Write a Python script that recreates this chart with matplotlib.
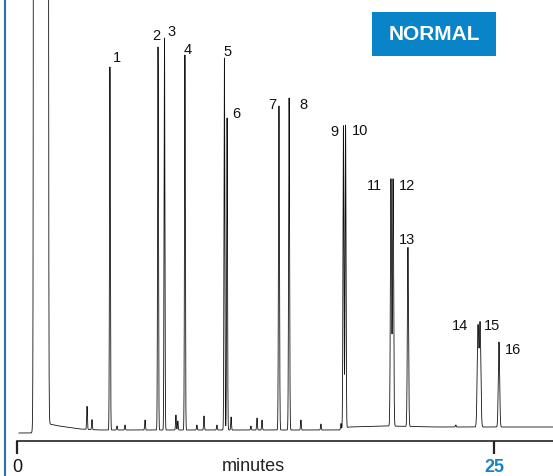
import numpy as np
import matplotlib
matplotlib.use("Agg")
import matplotlib.pyplot as plt
from matplotlib.lines import Line2D
from matplotlib.patches import Rectangle

plt.rcParams['font.family'] = ['Liberation Sans', 'DejaVu Sans']

# ---- data (retention time in minutes, response in arbitrary units) ----
peak_labels = ['1', '2', '3', '4', '5', '6', '7', '8', '9', '10',
               '11', '12', '13', '14', '15', '16']
peak_times = [4.87, 7.39, 7.73, 8.80, 10.87, 11.01, 13.73, 14.26, 17.11, 17.22,
              19.60, 19.71, 20.49, 24.16, 24.27, 25.26]
peak_heights = [363, 383, 392, 375, 372, 312, 324, 332, 303, 303,
                247, 247, 179, 100, 103, 85]
peak_widths = [0.022, 0.022, 0.022, 0.022, 0.022, 0.022, 0.025, 0.025, 0.025, 0.025,
               0.03, 0.03, 0.03, 0.04, 0.04, 0.035]

minor_times = [3.67, 3.93, 5.24, 5.66, 6.71, 8.33, 8.43, 9.43, 9.80, 10.48,
               11.22, 12.26, 12.58, 12.84, 14.88, 15.93, 16.98, 23.0]
minor_heights = [23, 10, 4, 5, 10, 15, 9, 5, 14, 5,
                 13, 4, 12, 10, 10, 6, 6, 2]

solvent_start = 0.89
solvent_end = 1.62
solvent_height = 10000

baseline_times = [0.1, 0.75, 1.7, 2.2, 2.6, 3.3, 4.3, 8.0, 12.0, 16.9, 17.4, 19.5, 22.0, 28.1]
baseline_levels = [8, 8, 17, 15, 14, 12, 11, 11, 11, 11, 14, 15, 14, 14]

x_ticks = [0, 25]
x_tick_labels = ['0', '25']

# label offsets (pixels) relative to the peak apex
label_offsets = [(7, 10), (-2, 12), (7, 7), (3, 6), (3.5, 7), (9, 5), (-7, 2), (14, -6),
                 (-9, -5), (15, -5), (-17, -6), (14, -6), (-1, 8), (-18, 2), (12, -1), (14, -7)]

# ---- figure ----
W, H, DPI = 553, 477, 100
fig = plt.figure(figsize=(W / DPI, H / DPI), dpi=DPI)
ax = fig.add_axes([17 / W, (H - 442) / H, (W - 17) / W, 442 / H])

t = np.arange(0.1, 28.1, 0.002)
y = np.interp(t, baseline_times, baseline_levels)
k = 0.012
y = y + solvent_height / (1 + np.exp(-(t - solvent_start) / k)) / (1 + np.exp((t - solvent_end) / k))
for t0, h, s in zip(peak_times, peak_heights, peak_widths):
    y = y + h * np.exp(-(t - t0) ** 2 / (2 * s ** 2))
for t0, h in zip(minor_times, minor_heights):
    y = y + h * np.exp(-(t - t0) ** 2 / (2 * 0.02 ** 2))

ax.plot(t, y, color='#111111', lw=0.6, clip_on=True)

ax.set_xlim(0, (W - 17) / 19.08)
ax.set_ylim(0, 442)

for lab, t0, h, off in zip(peak_labels, peak_times, peak_heights, label_offsets):
    base = np.interp(t0, baseline_times, baseline_levels)
    ax.annotate(lab, xy=(t0, base + h), xytext=off, textcoords='offset pixels',
                ha='center', va='center', fontsize=10.5, color='#111111')

for s in ['left', 'right', 'top']:
    ax.spines[s].set_visible(False)
ax.spines['bottom'].set_linewidth(1.2)
ax.spines['bottom'].set_color('#222222')
ax.set_yticks([])
ax.set_xticks(x_ticks, labels=x_tick_labels)
ax.tick_params(axis='x', direction='out', length=9.5, width=1.6, color='#222222',
               labelsize=13, pad=3)
tl = ax.get_xticklabels()
tl[0].set_color('#111111')
tl[1].set_color('#1a82c4')
tl[1].set_fontweight('bold')
ax.patch.set_visible(False)

fig.text(253 / W, 1 - 467 / H, 'minutes', ha='center', va='center', fontsize=13, color='#222222')

# left blue rule
fig.add_artist(Line2D([5 / W, 5 / W], [0, 1], color='#2a72b8', lw=1.5))

# NORMAL badge
fig.add_artist(Rectangle((372 / W, 1 - 57 / H), 124 / W, 44 / H, transform=fig.transFigure,
                         facecolor='#0a84c8', edgecolor='none'))
fig.text(434 / W, 1 - 35 / H, 'NORMAL', ha='center', va='center', fontsize=15,
         fontweight='bold', color='white')

fig.savefig('out.png', dpi=DPI)
